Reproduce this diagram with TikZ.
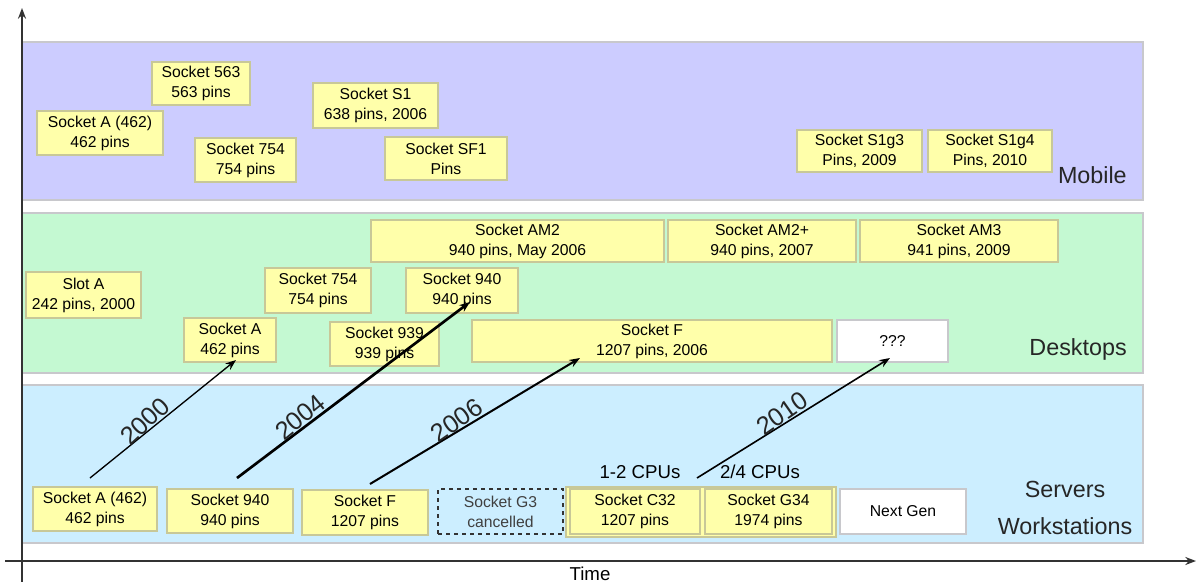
\documentclass[tikz,border=0pt]{standalone}
\usepackage{fontspec}
\setmainfont{Liberation Sans}
\usetikzlibrary{arrows.meta}
\definecolor{mobfill}{HTML}{CCCCFF}
\definecolor{deskfill}{HTML}{C4F9D2}
\definecolor{servfill}{HTML}{CCEEFF}
\definecolor{yfill}{HTML}{FFFFAA}
\definecolor{yline}{HTML}{C8C898}
\definecolor{pline}{HTML}{C8C8CC}
\definecolor{axisc}{HTML}{333333}
\newcommand{\boxat}[7]{%
  \pgfmathsetmacro\bw{(#5-#3)*0.75}%
  \pgfmathsetmacro\bh{(#6-#4)*0.75}%
  \node[#1, minimum width=\bw pt, minimum height=\bh pt] (#2) at ({(#3+#5)/2},{(#4+#6)/2}) {#7};}
\tikzset{
  panel/.style={draw=pline, line width=0.8pt, inner sep=0pt},
  boxfont/.style={font=\fontsize{11.8}{15}\selectfont},
  ybox/.style={draw=yline, fill=yfill, line width=0.8pt, inner sep=0.5pt, align=center, boxfont},
  wbox/.style={draw=pline, fill=white, line width=0.8pt, inner sep=0.5pt, align=center, boxfont},
  gbox/.style={draw=axisc, dashed, line width=1pt, inner sep=0.5pt, align=center, boxfont, text=black!75},
  grpbox/.style={draw=yline, fill=yfill, line width=0.8pt, inner sep=0pt},
  seglabel/.style={font=\fontsize{17.5}{21}\selectfont, align=center, text=black!85, inner sep=0pt},
  cpulabel/.style={font=\fontsize{14}{16}\selectfont, inner sep=0pt},
  yearlabel/.style={font=\fontsize{19}{21}\selectfont, inner sep=0pt, text=black!85, sloped, anchor=south},
  axisline/.style={draw=axisc, line width=1.5pt, -{Stealth[length=8pt,width=6pt]}},
  timearrow/.style={draw=black, -{Stealth[length=8pt,width=6pt]}},
}
\begin{document}
\begin{tikzpicture}[x=0.75pt,y=-0.75pt]
\useasboundingbox (0,0) rectangle (1197,582);
% panels
\boxat{panel, fill=mobfill}{mobile}{22}{42}{1143}{200}{}
\boxat{panel, fill=deskfill}{desktop}{22}{213}{1143}{373}{}
\boxat{panel, fill=servfill}{server}{22}{385}{1143}{543}{}
% axes
\coordinate (vb) at (22,582);
\coordinate (vt) at (22,8);
\coordinate (hl) at (5,561);
\coordinate (hr) at (1196,561);
\draw[axisline] (vb) -- (vt);
\draw[axisline] (hl) -- (hr);
\node[font=\fontsize{14}{16}\selectfont, inner sep=0pt, anchor=base] (time) at (590,580) {Time};
% mobile
\boxat{ybox}{m563}{152}{62}{250}{105}{Socket 563\\563 pins}
\boxat{ybox}{mA}{37}{111}{163}{155}{Socket A (462)\\462 pins}
\boxat{ybox}{mS1}{313}{83}{438}{128}{Socket S1\\638 pins, 2006}
\boxat{ybox}{m754}{195}{138}{296}{182}{Socket 754\\754 pins}
\boxat{ybox}{mSF1}{385}{137}{507}{180}{Socket SF1\\Pins}
\boxat{ybox}{mS1g3}{797}{130}{922}{172}{Socket S1g3\\Pins, 2009}
\boxat{ybox}{mS1g4}{928}{130}{1052}{172}{Socket S1g4\\Pins, 2010}
\node[seglabel, anchor=base east] (moblab) at (1127,183) {Mobile};
% desktops
\boxat{ybox}{dAM2}{371}{220}{664}{262}{Socket AM2\\940 pins, May 2006}
\boxat{ybox}{dAM2p}{668}{220}{856}{262}{Socket AM2+\\940 pins, 2007}
\boxat{ybox}{dAM3}{860}{220}{1058}{262}{Socket AM3\\941 pins, 2009}
\boxat{ybox}{dSlotA}{26}{272}{141}{318}{Slot A\\242 pins, 2000}
\boxat{ybox}{d754}{265}{268}{371}{313}{Socket 754\\754 pins}
\boxat{ybox}{d940}{406}{268}{518}{313}{Socket 940\\940 pins}
\boxat{ybox}{dA}{184}{318}{276}{362}{Socket A\\462 pins}
\boxat{ybox}{d939}{330}{322}{439}{366}{Socket 939\\939 pins}
\boxat{ybox}{dF}{472}{320}{832}{362}{Socket F\\1207 pins, 2006}
\boxat{wbox}{dQ}{837}{320}{948}{362}{???}
\node[seglabel, anchor=base east] (desklab) at (1127,355) {Desktops};
% servers
\boxat{ybox}{sA}{33}{487}{157}{531}{Socket A (462)\\462 pins}
\boxat{ybox}{s940}{167}{489}{293}{533}{Socket 940\\940 pins}
\boxat{ybox}{sF}{302}{490}{428}{535}{Socket F\\1207 pins}
\boxat{gbox}{sG3}{438}{489}{563}{534}{Socket G3\\cancelled}
\boxat{grpbox}{sgrp}{566}{487}{836}{537}{}
\boxat{ybox}{sC32}{570}{489}{700}{534}{Socket C32\\1207 pins}
\boxat{ybox}{sG34}{705}{489}{832}{534}{Socket G34\\1974 pins}
\boxat{wbox}{sNext}{840}{489}{966}{534}{Next Gen}
\node[cpulabel, anchor=base] (cpu12) at (640,478) {1-2 CPUs};
\node[cpulabel, anchor=base] (cpu24) at (760,478) {2/4 CPUs};
\node[seglabel, font=\fontsize{17.5}{28}\selectfont] (servlab) at (1065,508) {Servers\\Workstations};
% time arrows
\coordinate (a1s) at (90,478);
\coordinate (a1e) at (236,360);
\coordinate (a2s) at (237,478);
\coordinate (a2e) at (470,302);
\coordinate (a3s) at (370,484);
\coordinate (a3e) at (580,358);
\coordinate (a4s) at (697,478);
\coordinate (a4e) at (890,358);
\draw[timearrow, line width=1pt] (a1s) -- node[yearlabel, pos=0.42, rotate=4] (y2000) {2000} (a1e);
\draw[timearrow, line width=2pt] (a2s) -- node[yearlabel, pos=0.30, rotate=2] (y2004) {2004} (a2e);
\draw[timearrow, line width=1.5pt] (a3s) -- node[yearlabel, pos=0.44, rotate=4] (y2006) {2006} (a3e);
\draw[timearrow, line width=1.2pt] (a4s) -- node[yearlabel, pos=0.47, rotate=3] (y2010) {2010} (a4e);
\end{tikzpicture}
\end{document}
